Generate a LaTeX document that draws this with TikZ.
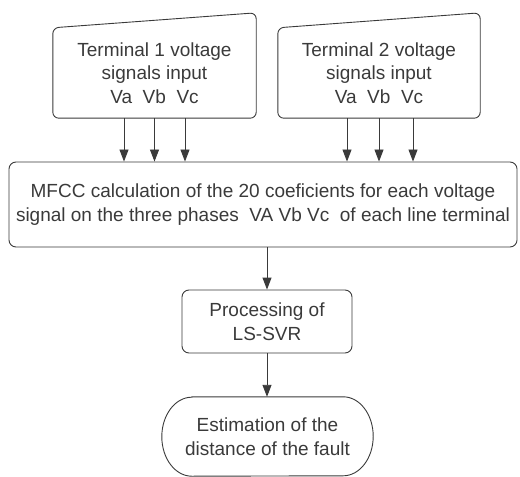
\documentclass[tikz,border=0pt]{standalone}
\usepackage{fontspec}
\setmainfont{Liberation Sans}
\usetikzlibrary{arrows.meta}
\definecolor{ink}{HTML}{3A3A3A}
\begin{document}
\begin{tikzpicture}[x=1bp,y=-1bp,
  every node/.style={text=ink, font=\fontsize{19bp}{23.5bp}\selectfont, align=center, inner sep=0pt},
  boxline/.style={draw=ink, line width=0.9bp},
  arr/.style={draw=ink, line width=0.9bp, -{Triangle[width=9bp,length=12bp]}},
  frame/.style={minimum width=#1, draw=none}
]
\useasboundingbox (0,0) rectangle (520,477);

% terminal inputs (manual input shape: slanted top)
\node[frame=203bp, minimum height=90bp] (t1) at (154.5,73) {Terminal 1 voltage\\signals input\\Va\ \ Vb\ \ Vc};
\node[frame=202bp, minimum height=90bp] (t2) at (379,73) {Terminal 2 voltage\\signals input\\Va\ \ Vb\ \ Vc};
\foreach \n in {t1,t2}
  \draw[boxline, rounded corners=6bp] (\n.south west) -- (\n.north west)
    -- ([yshift=15bp]\n.north east) -- (\n.south east) -- cycle;

% MFCC stage
\node[boxline, rounded corners=7bp, minimum width=508bp, minimum height=85bp] (mfcc) at (263,204.5)
  {MFCC calculation of the 20 coeficients for each voltage\\signal on the three phases\ \ VA Vb Vc\ \ of each line terminal};

% regression stage
\node[boxline, rounded corners=7bp, minimum width=170bp, minimum height=63bp] (svr) at (267,321.5)
  {Processing of\\LS-SVR};

% terminator
\node[frame=211bp, minimum height=79bp] (est) at (267.5,436.5) {Estimation of the\\distance of the fault};
\draw[boxline] ([xshift=30bp]est.north west) -- ([xshift=-30bp]est.north east)
  arc[start angle=90, end angle=-90, x radius=30bp, y radius=39.5bp]
  -- ([xshift=30bp]est.south west)
  arc[start angle=270, end angle=90, x radius=30bp, y radius=39.5bp] -- cycle;

% phase connectors
\foreach \n/\d in {t1/-30.5, t1/0, t1/30.5, t2/-32, t2/0, t2/34}
  \draw[arr] ([xshift=\d bp]\n.south) -- ([xshift=\d bp]\n.south |- mfcc.north);

\draw[arr] (mfcc.south -| svr.north) -- (svr.north);
\draw[arr] (svr.south) -- (svr.south |- est.north);
\end{tikzpicture}
\end{document}
